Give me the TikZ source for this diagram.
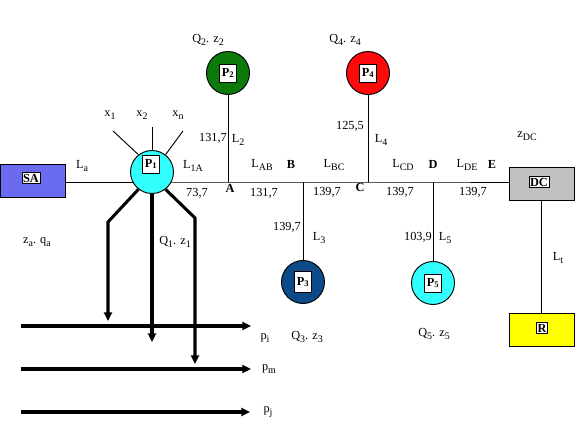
\documentclass[tikz,border=0pt]{standalone}
\usepackage{fontspec}
\setmainfont{Liberation Serif}
\usetikzlibrary{arrows.meta,backgrounds}
\definecolor{sablue}{HTML}{6B6BF2}
\definecolor{pcyan}{HTML}{33FFFF}
\definecolor{pgreen}{HTML}{0B7A0B}
\definecolor{pnavy}{HTML}{0C4A8A}
\definecolor{pred}{HTML}{FF0A0A}
\definecolor{dcgrey}{HTML}{C0C0C0}
\definecolor{ryellow}{HTML}{FFFF00}
\newcommand{\ix}[1]{\raisebox{-0.45ex}{\fontsize{8.5}{9}\selectfont #1}}

\begin{document}
\begin{tikzpicture}[
    x=0.3mm,y=-0.3mm,
    font=\fontsize{10.5}{12}\selectfont,
    % --- pumps and tanks ---------------------------------------------
    pump/.style={circle,draw=black,line width=0.8pt,minimum size=12.9mm,inner sep=0pt},
    tank/.style={rectangle,draw=black,line width=0.8pt,
                 minimum width=19.5mm,minimum height=9.9mm},
    tag/.style={draw=black,fill=white,line width=0.6pt,inner sep=1pt,
                font=\fontsize{10.5}{12}\selectfont\bfseries},
    ptag/.style={tag,minimum width=5mm,minimum height=5.4mm,inner sep=0pt},
    % --- pipes and flows ---------------------------------------------
    pipe/.style={draw=black,line width=0.8pt},
    feed/.style={draw=black,line width=2.6pt,
                 -{Triangle[length=2.6mm,width=2.4mm]}},
    % --- labels ------------------------------------------------------
    lab/.style={inner sep=1pt},
    junc/.style={lab,font=\fontsize{10.5}{12}\selectfont\bfseries},
  ]
\useasboundingbox (0,0) rectangle (581,423);

% =====================================================================
%  Junctions on the main pipe
% =====================================================================
\coordinate (a) at (228,182);
\coordinate (b) at (303,182);
\coordinate (c) at (368,182);
\coordinate (d) at (433,182);

% =====================================================================
%  Tanks and pumps
% =====================================================================
\node[tank,fill=sablue] (sa) at (33,181) {};
\node[tag] (sal) at (31,178) {SA};
\node[tank,fill=dcgrey] (dc) at (541.5,183.5) {};
\node[tag] (dcl) at (539,182) {DC};
\node[tank,fill=ryellow] (r) at (541.5,329.5) {};
\node[tag] (rl) at (542,328) {R};

\node[pump,fill=pcyan] (p1) at (152,172) {};
\node[ptag] (p1l) at (151,164) {P\textsubscript{1}};
\node[pump,fill=pgreen] (p2) at (228,73) {};
\node[ptag] (p2l) at (p2) {P\textsubscript{2}};
\node[pump,fill=pnavy] (p3) at (303,282) {};
\node[ptag,minimum height=6.4mm] (p3l) at (p3) {P\textsubscript{3}};
\node[pump,fill=pred] (p4) at (368,73) {};
\node[ptag] (p4l) at (p4) {P\textsubscript{4}};
\node[pump,fill=pcyan] (p5) at (433,283) {};
\node[ptag] (p5l) at (p5) {P\textsubscript{5}};

% ---- pipes (behind the pumps) ---------------------------------------
\begin{scope}[on background layer]
  \draw[pipe] (sa.east |- a) -- (a) -- (b) -- (c) -- (d) -- (dc.west |- d);
\end{scope}
\draw[pipe] (a) -- (p2);
\draw[pipe] (b) -- (p3);
\draw[pipe] (c) -- (p4);
\draw[pipe] (d) -- (p5);
\draw[pipe] (dc) -- (r);

% ---- inputs of P1 ---------------------------------------------------
\coordinate (k1) at (113,131);
\coordinate (k2) at (152,127);
\coordinate (k3) at (183,131);
\draw[pipe] (p1.128) -- (k1);
\draw[pipe] (p1.north) -- (k2);
\draw[pipe] (p1.52) -- (k3);
\node[lab] (x1) at (110,115) {x\ix{1}};
\node[lab] (x2) at (142,115) {x\ix{2}};
\node[lab] (xn) at (178,115) {x\ix{n}};

% =====================================================================
%  Flows from P1 down to the lines
% =====================================================================
\coordinate (bend1) at (108,222);
\coordinate (tip1) at (108,321);
\coordinate (tip2) at (152,342);
\coordinate (bend3) at (195,218);
\coordinate (tip3) at (195,364);
\draw[feed] (p1.232) -- (bend1) -- (tip1);
\draw[feed] (p1.south) -- (tip2);
\draw[feed] (p1.308) -- (bend3) -- (tip3);

\coordinate (ia) at (21,326);  \coordinate (ib) at (251,326);
\coordinate (ma) at (21,369);  \coordinate (mb) at (251,369);
\coordinate (ja) at (21,412);  \coordinate (jb) at (250,412);
\draw[feed] (ia) -- (ib);
\draw[feed] (ma) -- (mb);
\draw[feed] (ja) -- (jb);
\node[lab] (pi) at (265,338) {p\ix{i}};
\node[lab] (pm) at (269,369) {p\ix{m}};
\node[lab] (pj) at (268,412) {p\ix{j}};

% =====================================================================
%  Labels
% =====================================================================
\node[lab] (la) at (82,166) {L\ix{a}};
\node[lab] (za) at (37,242) {z\ix{a}. q\ix{a}};
\node[lab] (qz1) at (175,242) {Q\ix{1}. z\ix{1}};
\node[lab] (l1a) at (193,166) {L\ix{1A}};
\node[lab] (v1a) at (197,193) {73,7};
\node[junc] (al) at (230,188) {A};
\node[lab] (qz2) at (208,40) {Q\ix{2}. z\ix{2}};
\node[lab] (v2) at (213,138) {131,7};
\node[lab] (l2) at (238,140) {L\ix{2}};
\node[lab] (lab) at (262,165) {L\ix{AB}};
\node[junc] (bl) at (291,164) {B};
\node[lab] (vab) at (264,193) {131,7};
\node[lab] (v3) at (287,227) {139,7};
\node[lab] (l3) at (319,238) {L\ix{3}};
\node[lab] (qz3) at (307,337) {Q\ix{3}. z\ix{3}};
\node[lab] (lbc) at (334,165) {L\ix{BC}};
\node[lab] (vbc) at (327,192) {139,7};
\node[junc] (cl) at (360,187) {C};
\node[lab] (qz4) at (345,40) {Q\ix{4}. z\ix{4}};
\node[lab] (v4) at (350,126) {125,5};
\node[lab] (l4) at (381,140) {L\ix{4}};
\node[lab] (lcd) at (403,165) {L\ix{CD}};
\node[junc] (dl) at (433,164) {D};
\node[lab] (vcd) at (400,192) {139,7};
\node[lab] (v5) at (418,237) {103,9};
\node[lab] (l5) at (445,238) {L\ix{5}};
\node[lab] (qz5) at (434,334) {Q\ix{5}. z\ix{5}};
\node[lab] (lde) at (467,165) {L\ix{DE}};
\node[junc] (el) at (492,164) {E};
\node[lab] (vde) at (473,192) {139,7};
\node[lab] (zdc) at (527,136) {z\ix{DC}};
\node[lab] (lt) at (558,258) {L\ix{t}};

\end{tikzpicture}
\end{document}
